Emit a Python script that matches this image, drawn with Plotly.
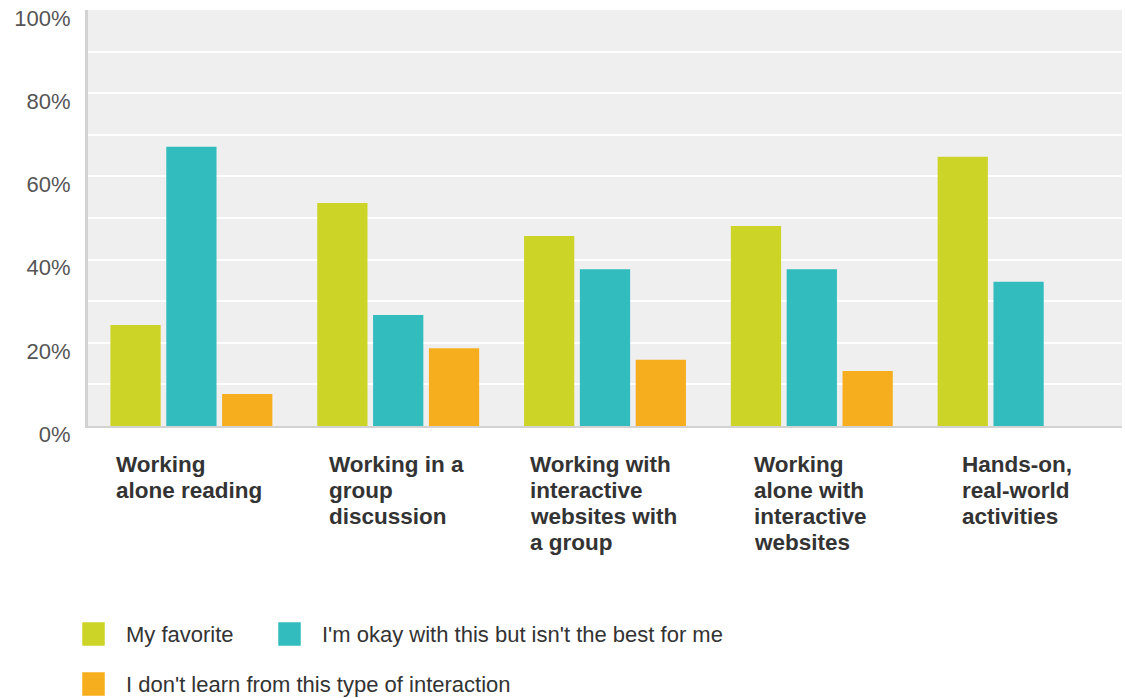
import plotly.graph_objects as go

# Survey: preferred ways of learning
categories = [
    ["Working", "alone reading"],
    ["Working in a", "group", "discussion"],
    ["Working with", "interactive", "websites with", "a group"],
    ["Working", "alone with", "interactive", "websites"],
    ["Hands-on,", "real-world", "activities"],
]
series_names = [
    "My favorite",
    "I'm okay with this but isn't the best for me",
    "I don't learn from this type of interaction",
]
my_favorite = [24.3, 53.6, 45.7, 48.1, 64.7]
okay_not_best = [67.1, 26.7, 37.7, 37.7, 34.7]
dont_learn = [7.7, 18.7, 15.9, 13.2, 0.0]
y_ticks = [0, 20, 40, 60, 80, 100]
y_tick_labels = ["0%", "20%", "40%", "60%", "80%", "100%"]

colors = ["#cdd428", "#33bcbd", "#f6ae1e"]
values = [my_favorite, okay_not_best, dont_learn]

W, H = 1125, 698
L, R, T, B = 88, 3, 10, 272
plot_w = W - L - R
plot_h = H - T - B
FONT = "Liberation Sans, Arial"

# Approximate Arial Bold advance widths (per 1000 em) for label block widths
BOLD_W = {
    "a": 556, "c": 556, "d": 611, "e": 556, "g": 611, "h": 611, "i": 278,
    "k": 556, "l": 278, "n": 611, "o": 611, "p": 611, "r": 389, "s": 556,
    "t": 333, "u": 611, "v": 556, "w": 778, "W": 944, "H": 722, " ": 278,
    "-": 333, ",": 278, "b": 611, "f": 333, "m": 889, "y": 556,
}

def text_width(s, size):
    return sum(BOLD_W.get(ch, 600) for ch in s) * size / 1000.0

def px_x(px):
    return (px - L) / plot_w

def px_y(py):
    return (H - B - py) / plot_h

fig = go.Figure()
x_idx = list(range(len(categories)))
for name, vals, col in zip(series_names, values, colors):
    fig.add_trace(go.Bar(
        x=x_idx, y=vals, name=name, marker_color=col,
        marker_line_width=0, showlegend=False,
    ))

# Category labels: a block centred under each group, lines left-aligned
LABEL_SIZE = 22.5
LINE_STEP = 26
for i, lines in enumerate(categories):
    block_w = max(text_width(s, LABEL_SIZE) for s in lines)
    for k, line in enumerate(lines):
        fig.add_annotation(
            x=i, y=0, xref="x", yref="paper", xanchor="left", yanchor="middle",
            xshift=-block_w / 2 - 4, yshift=-38 - k * LINE_STEP,
            text=line, showarrow=False, align="left",
            font=dict(family=FONT, size=LABEL_SIZE, color="#333333", weight="bold"),
        )

# Legend built from squares and labels
legend_items = [(83, 634), (279, 634), (83, 684)]
for (lx, ly), name, col in zip(legend_items, series_names, colors):
    x0, x1 = px_x(lx), px_x(lx + 21)
    y0, y1 = px_y(ly + 11), px_y(ly - 11)
    fig.add_shape(
        type="path", xref="paper", yref="paper",
        path=(f"M {x0} {y0} L {x1} {y0} L {x1} {y1} L {x0} {y1} Z"),
        fillcolor=col, line=dict(width=1.5, color=col), layer="above",
    )
    fig.add_annotation(
        x=px_x(lx + 41), y=px_y(ly), xref="paper", yref="paper",
        xanchor="left", yanchor="middle", text=name, showarrow=False,
        font=dict(family=FONT, size=22, color="#333333"),
    )

fig.update_layout(
    width=W, height=H,
    margin=dict(l=L, r=R, t=T, b=B),
    paper_bgcolor="white",
    plot_bgcolor="#efefef",
    barmode="group",
    bargap=0.19,
    bargroupgap=0.1,
    xaxis=dict(
        range=[-0.5, len(categories) - 0.5],
        showticklabels=False, showgrid=False, zeroline=False,
        showline=True, linecolor="#d2d2d2", linewidth=2, ticks="",
    ),
    yaxis=dict(
        range=[0, 100], tickvals=y_ticks, ticktext=y_tick_labels,
        showgrid=True, gridcolor="white", gridwidth=2,
        zeroline=False, showline=True, linecolor="#d2d2d2", linewidth=3,
        ticks="", ticklabelstandoff=10, ticklabelshift=8,
        tickfont=dict(family=FONT, size=22, color="#555555"),
    ),
)
# Minor gridlines every 10%
fig.update_yaxes(minor=dict(dtick=10, showgrid=True, gridcolor="white", gridwidth=2))

fig.write_html("out.html")
